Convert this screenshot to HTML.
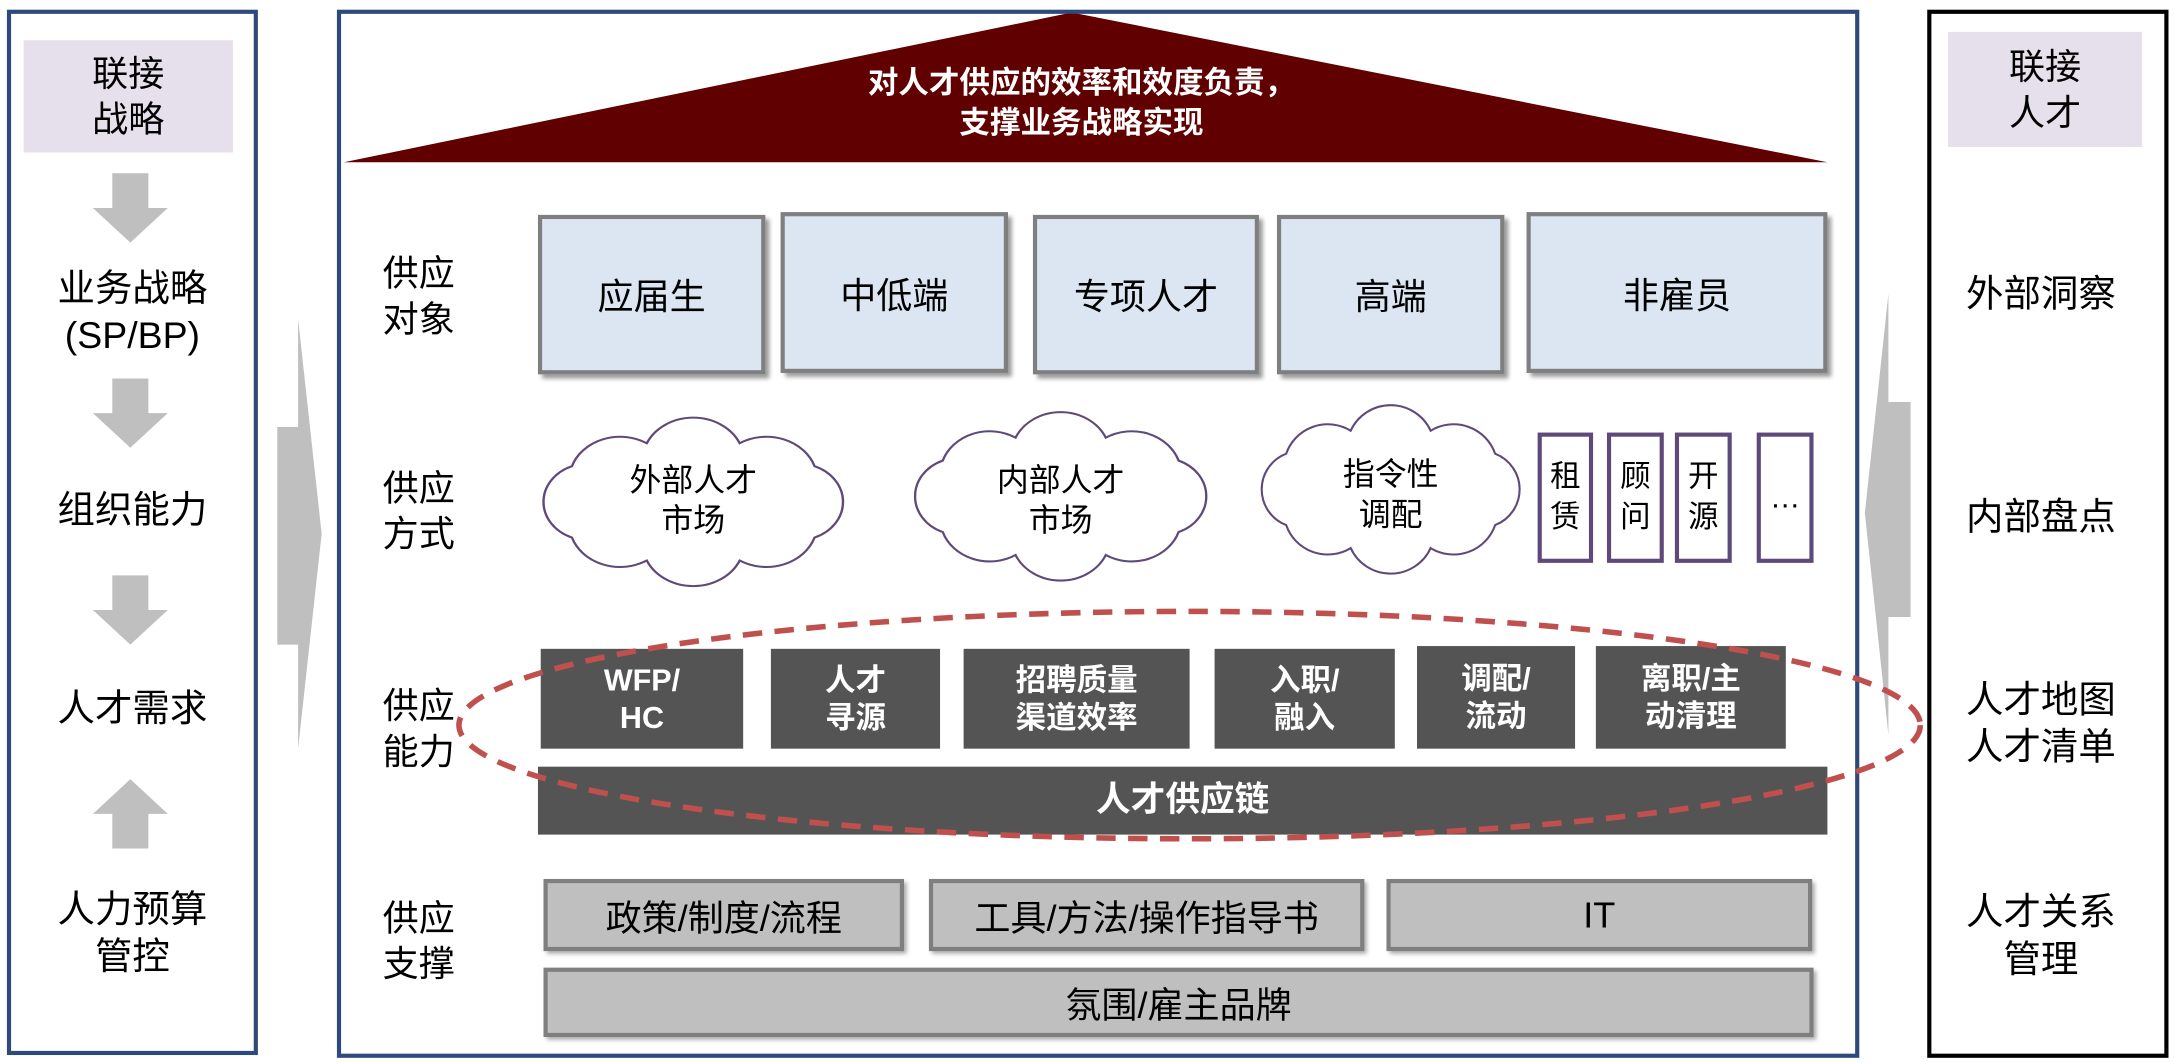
<!DOCTYPE html>
<html><head><meta charset="utf-8"><style>
html,body{margin:0;padding:0;background:#fff;width:2174px;height:1062px;overflow:hidden}
#w{position:absolute;left:0;top:0;width:1568px;height:766px;transform:scale(1.3865,1.3864);transform-origin:0 0;font-family:"Liberation Sans","Noto Sans CJK SC",sans-serif;color:#000}
.a{position:absolute;box-sizing:border-box}
.t{position:absolute;text-align:center;white-space:nowrap;line-height:1.25}
.c{display:flex;align-items:center;justify-content:center;text-align:center}
.blue{background:#dce6f2;border:3px solid #7f7f7f;box-shadow:3px 3px 3px #999;font-size:26px}
.dark{background:#545454;color:#fff;font-weight:bold;font-size:22px;line-height:1.25}
.gray{background:#bfbfbf;border:3px solid #7f7f7f;box-shadow:2px 2px 3px #aaa;font-size:26px}
.pur{border:3px solid #5f497a;font-size:22px;line-height:1.3;background:#fff}
</style></head><body><div id="w">
<svg class="a" style="left:0;top:0" width="1568" height="766">
 <g fill="#bfbfbf">
  <polygon points="81,125 107,125 107,150 121,150 94,175 67,150 81,150"/>
  <polygon points="81,273 107,273 107,298 121,298 94,323 67,298 81,298"/>
  <polygon points="81,415 107,415 107,440 121,440 94,465 67,440 81,440"/>
  <polygon points="81,612 107,612 107,587 121,587 94,562 67,587 81,587"/>
  <polygon points="200,308 215,308 215,230 232,385 215,540 215,465 200,465"/>
  <polygon points="1378,290 1362,290 1362,212 1345,370 1362,530 1362,445 1378,445"/>
 </g>
 <polygon points="248,117 773,9 1318,117" fill="#600000"/>
 <defs><path id="cl" d="M100,0 A30,30 0 0,1 81,28 A34,34 0 0,1 31,46 A34,34 0 0,1 -31,46 A34,34 0 0,1 -81,28 A30,30 0 0,1 -100,0 A30,30 0 0,1 -81,-28 A34,34 0 0,1 -31,-46 A34,34 0 0,1 31,-46 A34,34 0 0,1 81,-28 A30,30 0 0,1 100,0 Z"/></defs>
 <g fill="#fff" stroke="#5f497a" stroke-width="1.6">
  <use href="#cl" transform="translate(500,362) scale(1.08,0.92)"/>
  <use href="#cl" transform="translate(765,358) scale(1.05,0.92)"/>
  <use href="#cl" transform="translate(1003,353) scale(0.93,0.92)"/>
 </g>
</svg>
<div class="a" style="left:5px;top:7px;width:181px;height:754px;border:3px solid #2e4a7a"></div>
<div class="a c" style="left:17px;top:29px;width:151px;height:81px;background:#e6e0ec;font-size:26px;line-height:1.25">联接<br>战略</div>
<div class="t" style="left:5px;width:181px;top:192px;font-size:27px">业务战略<br>(SP/BP)</div>
<div class="t" style="left:5px;width:181px;top:352px;font-size:27px">组织能力</div>
<div class="t" style="left:5px;width:181px;top:495px;font-size:27px">人才需求</div>
<div class="t" style="left:5px;width:181px;top:640px;font-size:27px">人力预算<br>管控</div>

<div class="a" style="left:243px;top:7px;width:1098px;height:756px;border:3px solid #2e4a7a"></div>
<div class="t" style="left:540px;width:480px;top:46px;font-size:22px;font-weight:bold;color:#fff;line-height:1.3">对人才供应的效率和效度负责，<br>支撑业务战略实现</div>

<div class="t" style="left:262px;width:80px;top:181px;font-size:26px">供应<br>对象</div>
<div class="t" style="left:262px;width:80px;top:336px;font-size:26px">供应<br>方式</div>
<div class="t" style="left:262px;width:80px;top:493px;font-size:26px">供应<br>能力</div>
<div class="t" style="left:262px;width:80px;top:646px;font-size:26px">供应<br>支撑</div>

<div class="a c blue" style="left:388px;top:155px;width:164px;height:115px">应届生</div>
<div class="a c blue" style="left:563px;top:153px;width:164px;height:116px">中低端</div>
<div class="a c blue" style="left:745px;top:155px;width:163px;height:115px">专项人才</div>
<div class="a c blue" style="left:921px;top:155px;width:164px;height:115px">高端</div>
<div class="a c blue" style="left:1101px;top:153px;width:217px;height:116px">非雇员</div>

<div class="t" style="left:420px;width:160px;top:332px;font-size:23px">外部人才<br>市场</div>
<div class="t" style="left:685px;width:160px;top:332px;font-size:23px">内部人才<br>市场</div>
<div class="t" style="left:923px;width:160px;top:328px;font-size:23px">指令性<br>调配</div>

<div class="a c pur" style="left:1109px;top:312px;width:40px;height:94px">租<br>赁</div>
<div class="a c pur" style="left:1159px;top:312px;width:41px;height:94px">顾<br>问</div>
<div class="a c pur" style="left:1208px;top:312px;width:41px;height:94px">开<br>源</div>
<div class="a c pur" style="left:1267px;top:312px;width:41px;height:94px">…</div>

<div class="a c dark" style="left:390px;top:468px;width:146px;height:72px">WFP/<br>HC</div>
<div class="a c dark" style="left:556px;top:468px;width:122px;height:72px">人才<br>寻源</div>
<div class="a c dark" style="left:695px;top:468px;width:163px;height:72px">招聘质量<br>渠道效率</div>
<div class="a c dark" style="left:876px;top:468px;width:130px;height:72px">入职/<br>融入</div>
<div class="a c dark" style="left:1022px;top:466px;width:114px;height:74px">调配/<br>流动</div>
<div class="a c dark" style="left:1151px;top:466px;width:137px;height:74px">离职/主<br>动清理</div>
<div class="a c dark" style="left:388px;top:553px;width:930px;height:49px;font-size:25px">人才供应链</div>

<div class="a c gray" style="left:392px;top:634px;width:260px;height:52px">政策/制度/流程</div>
<div class="a c gray" style="left:670px;top:634px;width:314px;height:52px">工具/方法/操作指导书</div>
<div class="a c gray" style="left:1000px;top:634px;width:307px;height:52px">IT</div>
<div class="a c gray" style="left:392px;top:698px;width:916px;height:50px">氛围/雇主品牌</div>

<svg class="a" style="left:0;top:0" width="1568" height="766"><ellipse cx="858" cy="523" rx="527" ry="82" fill="none" stroke="#c0504d" stroke-width="4" stroke-dasharray="14 9"/></svg>

<div class="a" style="left:1390px;top:7px;width:174px;height:756px;border:3px solid #000"></div>
<div class="a c" style="left:1405px;top:23px;width:140px;height:83px;background:#e6e0ec;font-size:26px;line-height:1.25">联接<br>人才</div>
<div class="t" style="left:1390px;width:164px;top:196px;font-size:27px">外部洞察</div>
<div class="t" style="left:1390px;width:164px;top:357px;font-size:27px">内部盘点</div>
<div class="t" style="left:1390px;width:164px;top:489px;font-size:27px">人才地图<br>人才清单</div>
<div class="t" style="left:1390px;width:164px;top:642px;font-size:27px">人才关系<br>管理</div>
</div></body></html>
